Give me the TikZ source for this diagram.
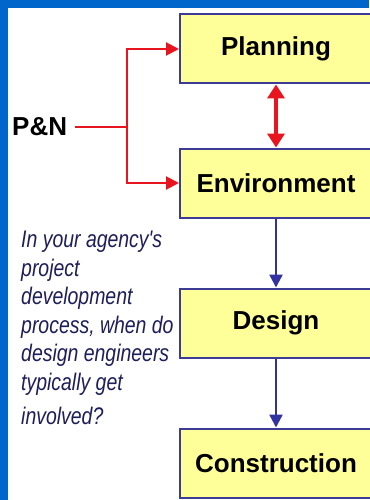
\documentclass[tikz,border=0pt]{standalone}
\usepackage{fontspec}
\setmainfont{Liberation Sans}
\newfontfamily\narrowsans[FakeStretch=0.81]{Liberation Sans}
\usetikzlibrary{arrows.meta, positioning}
\definecolor{slideblue}{RGB}{0,102,204}
\definecolor{boxfill}{RGB}{255,255,153}
\definecolor{boxline}{RGB}{60,60,150}
\definecolor{flowblue}{RGB}{50,50,160}
\definecolor{pnred}{RGB}{232,20,30}
\definecolor{asktext}{RGB}{30,30,90}
\tikzset{>={Triangle[width=13pt,length=13pt]}}
\tikzset{stage/.style={draw=boxline, line width=2pt, fill=boxfill, minimum width=192pt,
    minimum height=69pt, inner sep=0pt, font=\fontsize{26}{30}\selectfont\bfseries}}

\begin{document}
\begin{tikzpicture}[x=1pt,y=-1pt]
            \useasboundingbox (0,0) rectangle (369,500);
            \fill[slideblue] (0,0) rectangle (369,500);
            \fill[white] (8,8) rectangle (369,500);

            \node[stage] (P) at (276,49) {Planning};
            \node[stage] (E) at (276,183) {Environment};
            \node[stage] (D) at (276,323) {Design};
            \node[stage] (C) at (276,463) {Construction};

            \node[anchor=west, inner sep=0pt, font=\fontsize{26}{30}\selectfont\bfseries] (PN) at (12,127) {P\&N};
            \coordinate (J) at (127,127);

            \draw[pnred, line width=2pt] (PN.east) ++(8,0) -- (J);
            \draw[->, pnred, line width=2pt] (J) |- (P.west);
            \draw[->, pnred, line width=2pt] (J) |- (E.west);
            \draw[<->, pnred, line width=4pt, >={Triangle[width=17pt,length=14pt]}] (P.south) -- (E.north);

            \draw[->, flowblue, line width=2.5pt] (E.south) -- (D.north);
            \draw[->, flowblue, line width=2.5pt] (D.south) -- (C.north);

            \node[anchor=north west, inner sep=0pt, align=left, text=asktext,
                  font=\narrowsans\itshape\fontsize{24}{28.5}\selectfont] (Q) at (21,231)
                  {In your agency's\\project\\development\\process, when do\\design engineers\\typically get\\[6pt]involved?};
\end{tikzpicture}
\end{document}
